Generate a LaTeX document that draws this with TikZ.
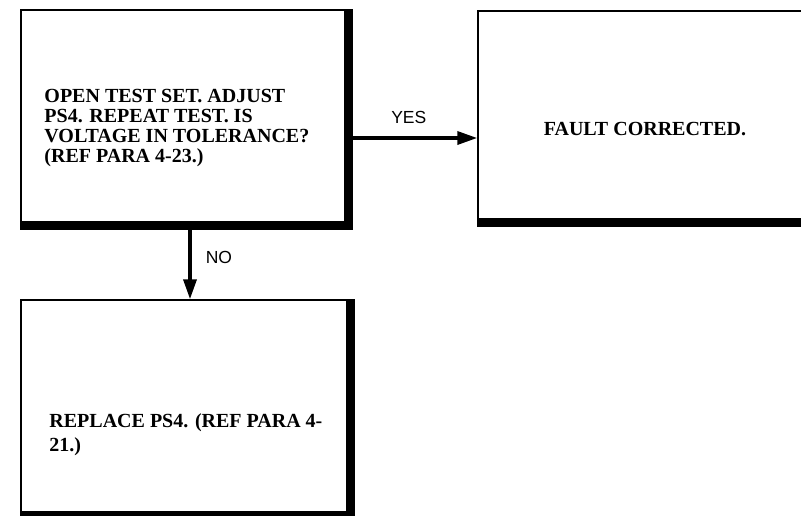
\documentclass[tikz,border=0pt]{standalone}
\usepackage{fontspec}
\setmainfont{Liberation Serif}
\newfontfamily\answerfont{Liberation Sans}
\usetikzlibrary{arrows.meta,positioning}
\tikzset{
            stepbox/.style={draw, line width=1.5pt, minimum height=212pt, inner sep=0pt},
            shadowline/.style={line width=7pt},
            boxtext/.style={font=\fontsize{20}{20}\selectfont\bfseries, align=left, inner sep=0pt},
            flow/.style={line width=3.5pt, -{Triangle[length=20pt,width=13pt]}},
            answer/.style={font=\answerfont\fontsize{17.5}{17.5}\selectfont, inner sep=0pt}
        }

\begin{document}
\begin{tikzpicture}[x=1pt, y=-1pt]
                \useasboundingbox (0,0) rectangle (801,515);
                % boxes
                \node[stepbox, minimum width=324pt] (test) at (183,116) {};
                \node[stepbox, minimum width=334pt, minimum height=208pt] (fault) at (645,115) {};
                \node[stepbox, minimum width=326pt] (replace) at (184,406) {};
                % heavy edges
                \draw[shadowline] ([xshift=3.5pt]test.north east) |- ([yshift=-3.5pt]test.south west);
                \draw[shadowline] ([xshift=3.5pt]fault.north east) |- ([yshift=-3.5pt]fault.south west);
                \draw[shadowline] ([xshift=3.5pt]replace.north east) |- ([yshift=-3.5pt]replace.south west);
                % texts
                \node[boxtext, anchor=north west] (testtext) at ([xshift=24pt, yshift=-80pt]test.north west)
                    {OPEN TEST SET. ADJUST\\PS4. REPEAT TEST. IS\\VOLTAGE IN TOLERANCE?\\(REF PARA 4-23.)};
                \node[boxtext, anchor=base] (faulttext) at ([yshift=-20pt]fault.center) {FAULT CORRECTED.};
                \node[boxtext, font=\fontsize{20}{24}\selectfont\bfseries, anchor=north west] (replacetext)
                    at ([xshift=29pt, yshift=-114pt]replace.north west) {REPLACE PS4. (REF PARA 4-\\21.)};
                % connectors
                \coordinate (yesstart) at ([xshift=7pt, yshift=-22pt]test.east);
                \coordinate (nostart) at ([xshift=7pt, yshift=-7pt]test.south);
                \draw[flow] (yesstart) -- (yesstart -| fault.west)
                    node[answer, pos=0.45, above=13pt] (yes) {YES};
                \draw[flow] (nostart) -- (nostart |- replace.north)
                    node[answer, pos=0.4, right=14pt] (no) {NO};
            \end{tikzpicture}
\end{document}
